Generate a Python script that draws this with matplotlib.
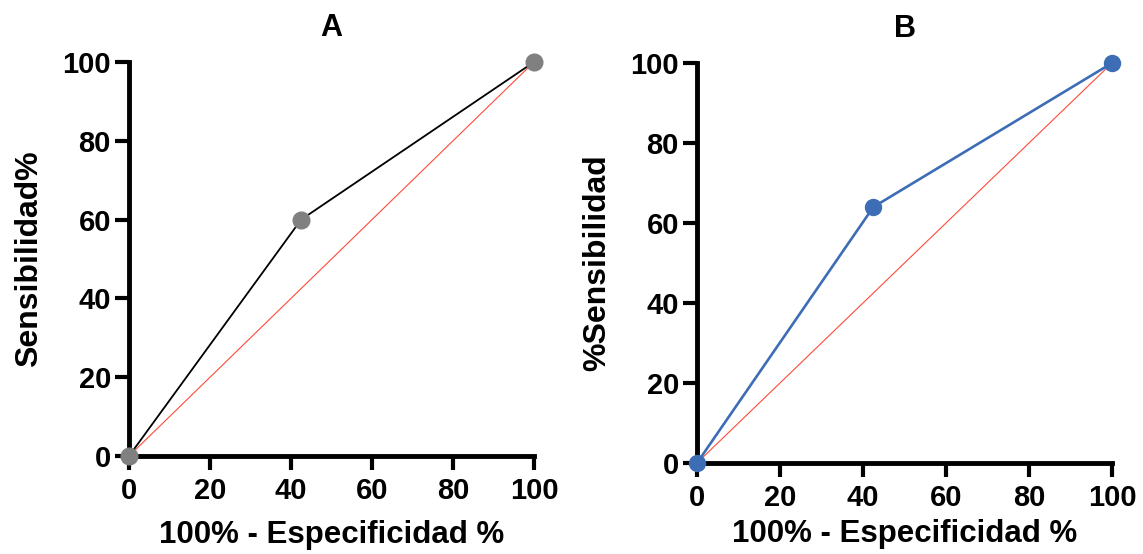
import numpy as np
import matplotlib
matplotlib.use('Agg')
import matplotlib.pyplot as plt

plt.rcParams['font.family'] = ['Liberation Sans', 'DejaVu Sans']
plt.rcParams['font.weight'] = 'bold'

# ROC curve A
fpr_a = [0, 42.5, 100]
sens_a = [0, 60, 100]
# ROC curve B
fpr_b = [0, 42.5, 100]
sens_b = [0, 64, 100]
# reference diagonal
diag = [0, 100]
ticks = [0, 20, 40, 60, 80, 100]

fig = plt.figure(figsize=(11.43, 5.54), dpi=100)
ax_a = fig.add_axes([0.1129, 0.1769, 0.3543, 0.7112])
ax_b = fig.add_axes([0.6098, 0.1643, 0.3631, 0.7220])

def style_axes(ax, title, ylabel, xpad):
    ax.set_xlim(0, 100)
    ax.set_ylim(0, 100)
    ax.set_xticks(ticks)
    ax.set_yticks(ticks)
    for s in ['top', 'right']:
        ax.spines[s].set_visible(False)
    for s in ['left', 'bottom']:
        ax.spines[s].set_linewidth(3.5)
    ax.tick_params(width=3, length=10, labelsize=21)
    ax.tick_params(axis='x', pad=5)
    ax.tick_params(axis='y', pad=3)
    ax.set_title(title, fontsize=22, fontweight='bold', pad=19)
    ax.set_xlabel('100% - Especificidad %', fontsize=22.5, fontweight='bold', labelpad=xpad)
    ax.set_ylabel(ylabel, fontsize=23, fontweight='bold', labelpad=13)

ax_a.plot(diag, diag, color='#ff4a3a', lw=0.8, zorder=2)
ax_a.plot(fpr_a, sens_a, color='black', lw=1.3, zorder=3, clip_on=False)
ax_a.plot(fpr_a, sens_a, 'o', color='#808080', ms=12, zorder=4, clip_on=False)
style_axes(ax_a, 'A', 'Sensibilidad%', 11)

ax_b.plot(diag, diag, color='#ff4a3a', lw=0.8, zorder=2)
ax_b.plot(fpr_b, sens_b, '-o', color='#3d6db5', lw=1.9, ms=11.5, zorder=3, clip_on=False)
style_axes(ax_b, 'B', '%Sensibilidad', 5)

fig.savefig('out.png', dpi=100)
